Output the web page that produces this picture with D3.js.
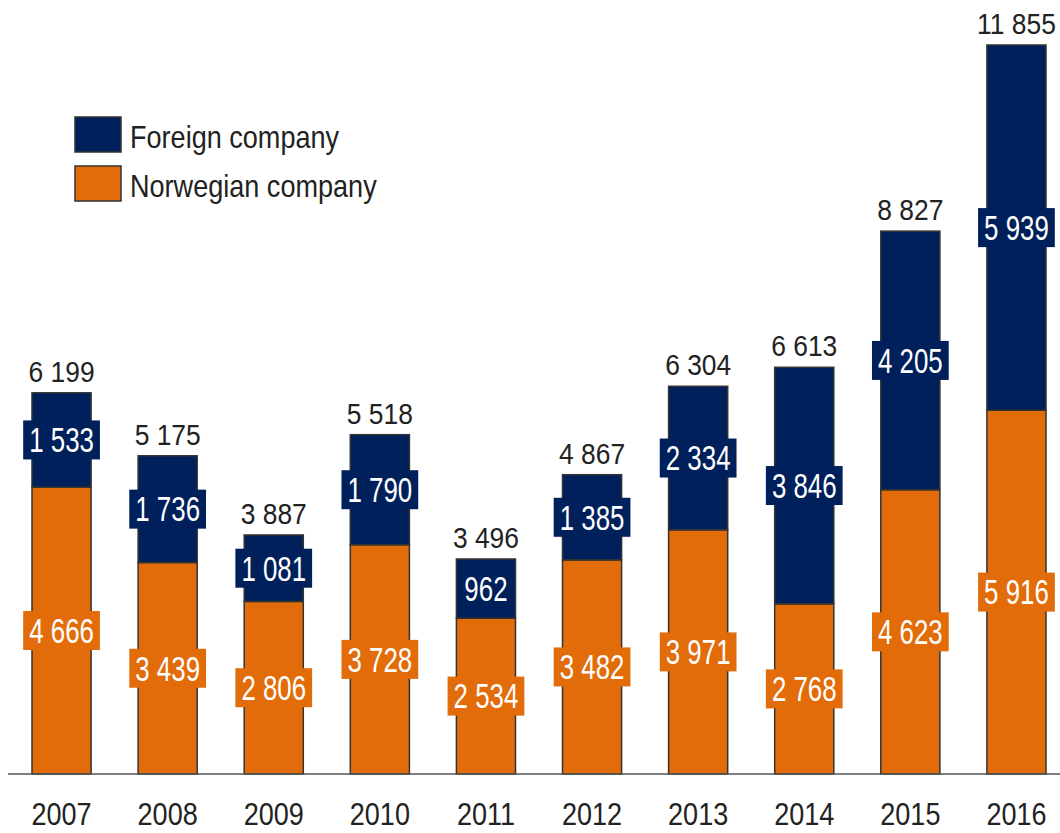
<!DOCTYPE html>
<html><head><meta charset="utf-8">
<script src="https://cdn.jsdelivr.net/npm/d3@7"></script>
<style>
body{margin:0;background:#fff;}
text{font-family:"Liberation Sans Narrow","Liberation Sans",Arial,sans-serif;}
</style></head>
<body><svg id="c" width="1060" height="833"></svg>
<script>
const years = ["2007","2008","2009","2010","2011","2012","2013","2014","2015","2016"];
const norwegian = [4666,3439,2806,3728,2534,3482,3971,2768,4623,5916];
const foreign = [1533,1736,1081,1790,962,1385,2334,3846,4205,5939];
const totals = [6199,5175,3887,5518,3496,4867,6304,6613,8827,11855];
const seriesNames = ["Foreign company","Norwegian company"];
const colors = {nor:"#E36C0A", for:"#00205B"};

const svg = d3.select("#c");
const x = d3.scaleBand().domain(years).range([32,1046]).paddingInner(0.443).paddingOuter(0);
const y = d3.scaleLinear().domain([0,11855]).range([774,45]);
const fmt = v => String(v).replace(/\B(?=(\d{3})+(?!\d))/g, " ");

const data = years.map((yr,i)=>({yr, nor:norwegian[i], for:foreign[i], tot:totals[i]}));

// condensed text helper
function ctext(parent, tx, ty, txt, size, sx, fill, anchor){
  const t = parent.append("text")
    .attr("transform",`translate(${tx},${ty}) scale(${sx},1)`)
    .attr("text-anchor",anchor||"middle").attr("font-size",size).attr("fill",fill).text(txt);
  return t;
}

// bars
const g = svg.append("g");
data.forEach(d=>{
  g.append("rect").attr("x",x(d.yr)).attr("width",x.bandwidth())
    .attr("y",y(d.nor)).attr("height",y(0)-y(d.nor))
    .attr("fill",colors.nor).attr("stroke","#333").attr("stroke-width",1.5);
  g.append("rect").attr("x",x(d.yr)).attr("width",x.bandwidth())
    .attr("y",y(d.nor+d.for)).attr("height",y(d.nor)-y(d.nor+d.for))
    .attr("fill",colors.for).attr("stroke","#333").attr("stroke-width",1.5);
});

// axis line
svg.append("line").attr("x1",8).attr("x2",1060).attr("y1",774).attr("y2",774)
  .attr("stroke","#555").attr("stroke-width",1.5);

// x labels via axis
const xAxis = d3.axisBottom(x).tickSize(0).tickPadding(0);
const ax = svg.append("g").attr("transform","translate(0,774)").call(xAxis);
ax.select(".domain").remove();
ax.selectAll("text").attr("font-size",32).attr("fill","#222").attr("dy",null).attr("y",null)
  .attr("transform","translate(0,51) scale(0.845,1)")
  .style("font-family","'Liberation Sans Narrow','Liberation Sans',Arial,sans-serif");

// inner labels with boxes
function boxLabel(cx, cy, txt, fill){
  const gg = svg.append("g");
  const sx = 0.75;
  const t = ctext(gg, cx, cy+12.3, txt, 34.5, sx, "#fff");
  const bb = t.node().getBBox();
  const w = bb.width*sx;
  gg.insert("rect","text").attr("x",cx-w/2-6).attr("width",w+12)
    .attr("y",cy-19.5).attr("height",39).attr("fill",fill);
}
data.forEach(d=>{
  const cx = x(d.yr)+x.bandwidth()/2;
  boxLabel(cx,(y(0)+y(d.nor))/2,fmt(d.nor),colors.nor);
  boxLabel(cx,(y(d.nor)+y(d.nor+d.for))/2,fmt(d.for),colors.for);
  ctext(svg, cx, y(d.nor+d.for)-11, fmt(d.tot), 30, 0.88, "#222");
});

// legend
const leg = svg.append("g");
[[seriesNames[0],colors.for,117],[seriesNames[1],colors.nor,166]].forEach(([n,c,yy])=>{
  leg.append("rect").attr("x",75).attr("y",yy).attr("width",46).attr("height",35)
    .attr("fill",c).attr("stroke","#333").attr("stroke-width",1.5);
  ctext(leg, 130, yy+31, n, 32, 0.846, "#222", "start");
});
</script></body></html>
